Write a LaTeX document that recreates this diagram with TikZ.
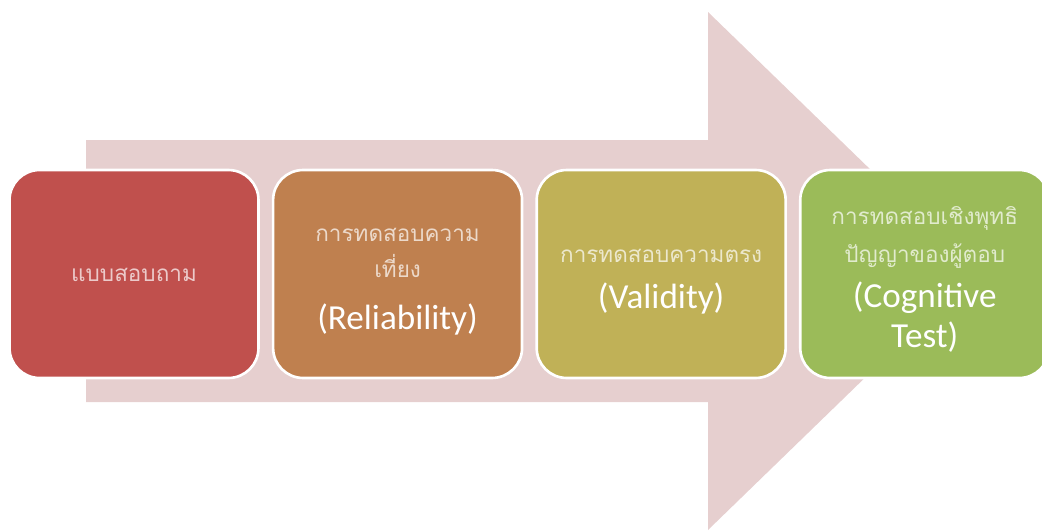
\documentclass[tikz,border=0pt]{standalone}
\usepackage{fontspec}
\setmainfont{Carlito}
\newfontfamily\thaifont[Script=Thai]{Loma}
\usetikzlibrary{positioning}

\definecolor{arrowpink}{HTML}{E6CFCF}
\definecolor{boxred}{HTML}{C0504D}
\definecolor{boxbrown}{HTML}{BF804F}
\definecolor{boxolive}{HTML}{C0B157}
\definecolor{boxgreen}{HTML}{9BBB59}

% thai lines are set a bit faded, like the english ones
\newcommand{\thline}[1]{{\thaifont\fontsize{12.8}{22}\selectfont\color{thaicol}#1}}
% text block of a stage, lowered a little without moving the box
\newcommand{\stagetext}[2][-2.3pt]{\raisebox{#1}[\height][\depth]{\begin{tabular}{@{}c@{}}#2\end{tabular}}}

\tikzset{
  stagebox/.style={fill=#1, draw=white, line width=1.5pt, rounded corners=0.6cm,
    minimum width=4.98cm, minimum height=4.16cm, text=white,
    font=\fontsize{20}{22}\selectfont,
    execute at begin node={\colorlet{thaicol}{white!70!#1}}}
}

\begin{document}
\begin{tikzpicture}[x=0.02cm, y=-0.02cm]
  \useasboundingbox (0,0) rectangle (1042,531);

  % Draw the big arrow behind the boxes
  \fill[arrowpink] (86,140) -- (708,140) -- (708,12) -- (975,271)
    -- (708,530) -- (708,402) -- (86,402) -- cycle;

  % Draw the four stages
  \node[stagebox=boxred] (survey) at (134,274) {\stagetext[0pt]{\thline{แบบสอบถาม}}};
  \node[stagebox=boxbrown, right=0.24cm of survey] (reliab)
    {\stagetext{\thline{การทดสอบความ}\\[-1.5pt]\thline{เที่ยง}\\[7.5pt](Reliability)}};
  \node[stagebox=boxolive, right=0.24cm of reliab] (valid)
    {\stagetext{\thline{การทดสอบความตรง}\\[4.2pt](Validity)}};
  \node[stagebox=boxgreen, right=0.24cm of valid] (cognit)
    {\stagetext{\thline{การทดสอบเชิงพุทธิ}\\[0pt]\thline{ปัญญาของผู้ตอบ}\\[3.5pt](Cognitive\\[0.5pt]Test)}};
\end{tikzpicture}
\end{document}
